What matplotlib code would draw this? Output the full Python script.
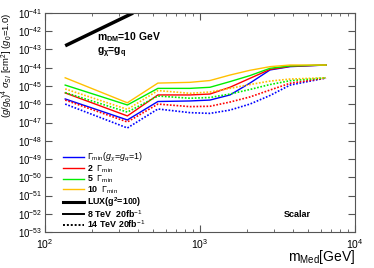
import numpy as np
import matplotlib
matplotlib.use('Agg')
import matplotlib.pyplot as plt
from matplotlib.lines import Line2D

plt.rcParams['font.family'] = ['Liberation Sans', 'DejaVu Sans']
plt.rcParams['mathtext.fontset'] = 'custom'
plt.rcParams['mathtext.rm'] = 'Liberation Sans'
plt.rcParams['mathtext.it'] = 'Liberation Sans:italic'
plt.rcParams['mathtext.bf'] = 'Liberation Sans:bold'

# mediator masses (GeV)
m_med = [135, 340, 535, 860, 1160, 1560, 2100, 2830, 3810, 6500]

# log10 of cross section limits (cm^2), 8 TeV 20fb-1 (solid)
w1_8 = [-45.71, -46.86, -45.85, -45.82, -45.77, -45.49, -44.84, -44.12, -43.94, -43.85]
w2_8 = [-45.38, -46.64, -45.49, -45.49, -45.44, -45.07, -44.58, -44.09, -43.92, -43.85]
w5_8 = [-44.95, -46.04, -45.13, -45.13, -45.07, -44.76, -44.43, -44.03, -43.90, -43.85]
w10_8 = [-44.55, -45.92, -44.84, -44.80, -44.70, -44.40, -44.14, -43.94, -43.85, -43.85]

# 14 TeV 20fb-1 (dotted)
w1_14 = [-45.99, -47.30, -46.26, -46.46, -46.50, -46.32, -45.99, -45.52, -44.95, -44.56]
w2_14 = [-45.77, -46.97, -45.99, -46.13, -46.11, -45.88, -45.60, -45.22, -44.85, -44.56]
w5_14 = [-45.36, -46.43, -45.55, -45.67, -45.63, -45.44, -45.19, -44.92, -44.71, -44.55]
w10_14 = [-45.16, -46.28, -45.25, -45.40, -45.33, -45.13, -44.92, -44.73, -44.62, -44.55]

# LUX (g^2=100)
lux_mass = [135, 370]
lux_sigma = [1.6e-43, 1.0e-41]

colors = ['#0000ff', '#ff0000', '#00ee00', '#ffc000']
labels = [r'$\Gamma_{\rm min}(g_{\chi}\!=\!g_{q}\!=\!1)$', r'2  $\Gamma_{\rm min}$',
          r'5  $\Gamma_{\rm min}$', r'10  $\Gamma_{\rm min}$']

fig = plt.figure(figsize=(3.74, 2.68), dpi=100)
ax = fig.add_axes([0.1203, 0.1343, 0.8289, 0.8172])

for c, s8, s14 in zip(colors, [w1_8, w2_8, w5_8, w10_8], [w1_14, w2_14, w5_14, w10_14]):
    ax.plot(m_med, 10.0 ** np.array(s8), color=c, lw=1.0)
    ax.plot(m_med, 10.0 ** np.array(s14), color=c, lw=1.2, ls=(0, (1, 1)))

ax.plot(lux_mass, lux_sigma, color='black', lw=2.5, solid_capstyle='butt')

ax.set_xscale('log')
ax.set_yscale('log')
ax.set_xlim(100, 10000)
ax.set_ylim(1e-53, 1e-41)
ax.set_yticks([10.0 ** k for k in range(-53, -40)])
ax.tick_params(which='both', direction='in', top=True, right=True, labelsize=7.5,
               colors='#555555', labelcolor='black')
ax.tick_params(axis='y', labelsize=7)
ax.tick_params(which='major', length=5)
ax.tick_params(which='minor', length=2.5)
ax.tick_params(axis='x', pad=3.5)
ax.tick_params(axis='y', pad=2)
for sp in ax.spines.values():
    sp.set_color('#555555')

ax.text(0.168, 0.89, r'$\mathbf{m_{DM}}$=10 GeV', transform=ax.transAxes, fontsize=7.5,
        fontweight='bold', va='center')
ax.text(0.168, 0.82, r'$\mathbf{g_{\chi}}$=$\mathbf{g_{q}}$', transform=ax.transAxes, fontsize=7.5,
        fontweight='bold', va='center')
ax.text(0.77, 0.08, 'Scalar', transform=ax.transAxes, fontsize=6.5, fontweight='bold', va='center')

ax.set_ylabel(r'$(g/g_{0})^{4}\ \sigma_{SI}$ [cm$^{2}$] ($g_{0}$=1.0)', fontsize=6.8, loc='top')
ax.yaxis.set_label_coords(-0.098, 1.0)
ax.set_xlabel(r'm$_{\rm Med}$[GeV]', fontsize=10, loc='right')
ax.xaxis.set_label_coords(1.0, -0.075)

handles = [Line2D([], [], color=c, lw=1) for c in colors]
handles += [Line2D([], [], color='black', lw=2.2), Line2D([], [], color='black', lw=1.4),
            Line2D([], [], color='black', lw=1.4, ls=(0, (1, 1)))]
leg_labels = labels + [r'LUX($\mathbf{g^{2}}$=100)', r'8 TeV  20fb$^{-1}$', r'14 TeV 20fb$^{-1}$']
leg = ax.legend(handles, leg_labels, loc='upper left', bbox_to_anchor=(0.045, 0.39), frameon=False,
                fontsize=6.4, handlelength=2.3, handletextpad=0.4, labelspacing=-0.1, borderpad=0)
for t in leg.get_texts():
    t.set_fontweight('bold')

fig.savefig('out.png', dpi=100)
